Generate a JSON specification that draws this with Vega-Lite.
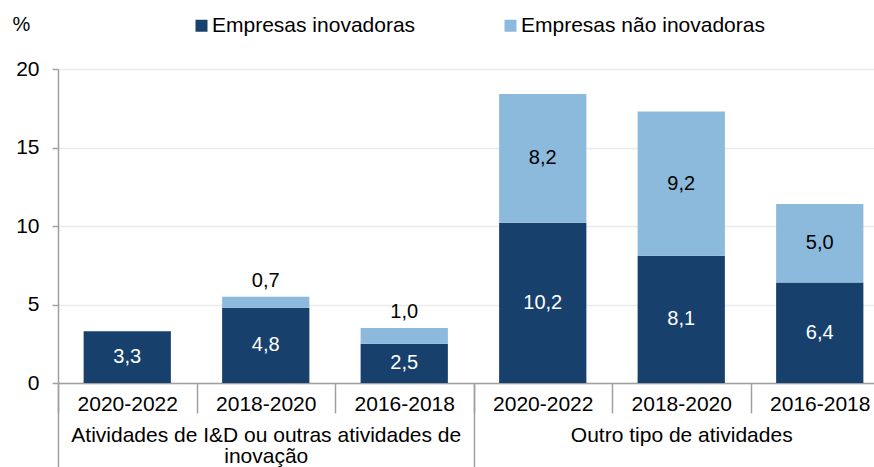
{
  "$schema": "https://vega.github.io/schema/vega-lite/v6.json",
  "width": 816,
  "height": 314,
  "autosize": {"type": "none"},
  "padding": {"left": 58, "top": 69, "right": 0, "bottom": 84},
  "config": {
    "font": "Liberation Sans",
    "view": {"stroke": null},
    "axis": {"labelColor": "#000000", "titleColor": "#000000", "labelFont": "Liberation Sans", "titleFont": "Liberation Sans", "labelLimit": 0}
  },
  "data": {
    "values": [
      {"grupo": "Atividades de I&D ou outras atividades de|inovação", "periodo": "2020-2022", "chave": "1|2020-2022", "inov": 3.3, "non": 0},
      {"grupo": "Atividades de I&D ou outras atividades de|inovação", "periodo": "2018-2020", "chave": "1|2018-2020", "inov": 4.8, "non": 0.7},
      {"grupo": "Atividades de I&D ou outras atividades de|inovação", "periodo": "2016-2018", "chave": "1|2016-2018", "inov": 2.5, "non": 1.0},
      {"grupo": "Outro tipo de atividades", "periodo": "2020-2022", "chave": "2|2020-2022", "inov": 10.2, "non": 8.2},
      {"grupo": "Outro tipo de atividades", "periodo": "2018-2020", "chave": "2|2018-2020", "inov": 8.1, "non": 9.2},
      {"grupo": "Outro tipo de atividades", "periodo": "2016-2018", "chave": "2|2016-2018", "inov": 6.4, "non": 5.0}
    ]
  },
  "layer": [
    {
      "layer": [
        {
          "transform": [
            {"fold": ["inov", "non"], "as": ["serie", "valor"]},
            {"calculate": "datum.serie == 'inov' ? 'Empresas inovadoras' : 'Empresas não inovadoras'", "as": "tipo"},
            {"calculate": "datum.serie == 'inov' ? 0 : 1", "as": "ordem"}
          ],
          "mark": {"type": "bar", "width": {"band": 0.63}},
          "encoding": {
            "x": {
              "field": "chave", "type": "nominal", "sort": null,
              "scale": {"range": [0, 831], "paddingInner": 0, "paddingOuter": 0},
              "axis": {
                "orient": "bottom", "title": null,
                "labelExpr": "datum.value ? split(datum.value, '|')[1] : ''",
                "labelAngle": 0, "labelFontSize": 21, "labelPadding": -20,
                "tickBand": "extent", "tickSize": 30, "tickColor": "#a0a0a0", "tickWidth": 1.5,
                "domainColor": "#a0a0a0", "domainWidth": 1.5, "grid": false
              }
            },
            "y": {
              "field": "valor", "type": "quantitative", "stack": "zero",
              "scale": {"domain": [0, 20], "nice": false},
              "axis": {
                "title": "%", "titleAngle": 0, "titleX": -46, "titleY": -45,
                "titleAlign": "left", "titleBaseline": "middle",
                "titleFontSize": 20, "titleFontWeight": "normal",
                "values": [0, 5, 10, 15, 20], "labelFontSize": 21,
                "tickSize": 6, "labelPadding": 13,
                "domainColor": "#a0a0a0", "domainWidth": 1.5, "tickColor": "#a0a0a0", "tickWidth": 1.5,
                "gridColor": "#ebebeb", "gridWidth": 1.5
              }
            },
            "order": {"field": "ordem", "type": "quantitative", "sort": "ascending"},
            "color": {
              "field": "tipo", "type": "nominal",
              "scale": {"domain": ["Empresas inovadoras", "Empresas não inovadoras"], "range": ["#17406D", "#8BBADC"]},
              "legend": {
                "orient": "none", "legendX": 133, "legendY": -54,
                "direction": "horizontal", "title": null,
                "symbolType": "square", "symbolSize": 144, "symbolStrokeWidth": 0,
                "labelFontSize": 21, "labelOffset": 0, "labelLimit": 0, "columnPadding": 84, "padding": 0,
                "labelColor": "#000000", "labelFont": "Liberation Sans"
              }
            }
          }
        },
        {
          "transform": [
            {"calculate": "datum.inov / 2", "as": "ypos"},
            {"calculate": "replace(format(datum.inov, '.1f'), '.', ',')", "as": "lbl"}
          ],
          "mark": {"type": "text", "color": "#ffffff", "fontSize": 20, "baseline": "middle", "font": "Liberation Sans"},
          "encoding": {
            "x": {"field": "chave", "type": "nominal", "sort": null},
            "y": {"field": "ypos", "type": "quantitative"},
            "text": {"field": "lbl"}
          }
        },
        {
          "transform": [
            {"filter": "datum.non > 0"},
            {"calculate": "datum.non >= 2 ? datum.inov + datum.non / 2 : datum.inov + datum.non + 1.0", "as": "ypos"},
            {"calculate": "replace(format(datum.non, '.1f'), '.', ',')", "as": "lbl"}
          ],
          "mark": {"type": "text", "color": "#000000", "fontSize": 20, "baseline": "middle", "font": "Liberation Sans"},
          "encoding": {
            "x": {"field": "chave", "type": "nominal", "sort": null},
            "y": {"field": "ypos", "type": "quantitative"},
            "text": {"field": "lbl"}
          }
        }
      ]
    },
    {
      "mark": {"type": "text", "opacity": 0, "text": ""},
      "encoding": {
        "x": {
          "field": "grupo", "type": "nominal", "sort": null,
          "scale": {"range": [0, 831], "paddingInner": 0, "paddingOuter": 0},
          "axis": {
            "orient": "bottom", "title": null,
            "labelExpr": "datum.value ? split(datum.value, '|') : ''",
            "labelAngle": 0, "labelFontSize": 21, "labelLineHeight": 21,
            "labelBaseline": "top", "labelPadding": -43,
            "tickBand": "extent", "tickSize": 84, "tickColor": "#a0a0a0", "tickWidth": 1.5,
            "domain": false, "grid": false
          }
        }
      }
    }
  ],
  "resolve": {"scale": {"x": "independent"}, "axis": {"x": "independent"}}
}
